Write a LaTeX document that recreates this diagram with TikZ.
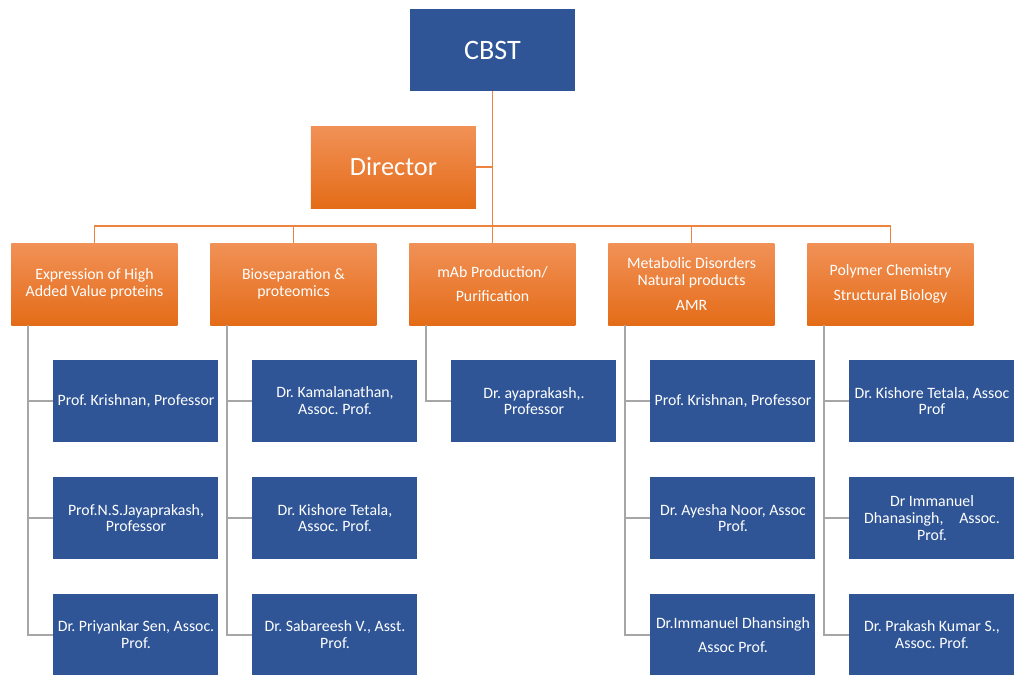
\documentclass[tikz,border=0pt]{standalone}
\usepackage{fontspec}
\setmainfont{Carlito}
\frenchspacing
\usetikzlibrary{positioning}
\definecolor{unitblue}{HTML}{2F5597}
\definecolor{orgtop}{HTML}{F19157}
\definecolor{orgmid}{HTML}{F47F2F}
\definecolor{orgbot}{HTML}{E46C18}
\definecolor{orgline}{HTML}{EE8340}
\definecolor{staffline}{HTML}{A6A6A6}
\tikzstyle{unit} = [rectangle, 
minimum width=3.3cm, 
minimum height=1.64cm,
text centered, 
text=white, 
fill=unitblue, 
font=\fontsize{16}{19}\selectfont]
\tikzstyle{head} = [rectangle, 
minimum width=3.3cm, 
minimum height=1.64cm,
text centered, 
text=white, 
top color=orgtop, middle color=orgmid, bottom color=orgbot, 
font=\fontsize{15}{18}\selectfont]
\tikzstyle{group} = [rectangle, 
minimum width=3.32cm, 
minimum height=1.64cm,
align=center, 
text=white, 
top color=orgtop, middle color=orgmid, bottom color=orgbot, 
font=\fontsize{9}{9.6}\selectfont]
\tikzstyle{member} = [rectangle, 
minimum width=3.3cm, 
minimum height=1.64cm,
inner sep=1pt, % long names nearly fill the box
align=center, 
text=white, 
fill=unitblue, 
font=\fontsize{9}{9.6}\selectfont]
\tikzstyle{orange line} = [draw=orgline, line width=0.85pt]
\tikzstyle{gray line} = [draw=staffline, line width=0.9pt]

\begin{document}
\begin{tikzpicture}[node distance=2.34cm]
\useasboundingbox (-9.85,1.0) rectangle (10.63,-12.5);

\node (cbst) [unit] {CBST};
\node (dir) [head, below of=cbst, xshift=-1.98cm] {Director};

\node (grp3) [group, below of=dir, xshift=1.98cm] {mAb Production/\\[4.5pt]Purification};
\node (grp2) [group, left of=grp3, xshift=-1.64cm] {Bioseparation \&\\proteomics};
\node (grp1) [group, left of=grp2, xshift=-1.64cm] {Expression of High\\Added Value proteins};
\node (grp4) [group, right of=grp3, xshift=1.64cm] {Metabolic Disorders\\Natural products\\[4.5pt]AMR};
\node (grp5) [group, right of=grp4, xshift=1.64cm] {Polymer Chemistry\\[4.5pt]Structural Biology};

\node[coordinate, above of=grp3, yshift=-1.18cm] (bar) {};
\draw[orange line] (cbst) -- (bar);
\draw[orange line] (dir.east) -- (dir.east -| bar);
\draw[orange line] (bar) -| (grp1);
\draw[orange line] (bar) -| (grp2);
\draw[orange line] (bar) -- (grp3);
\draw[orange line] (bar) -| (grp4);
\draw[orange line] (bar) -| (grp5);

\node (mem1a) [member, below of=grp1, xshift=0.83cm] {Prof. Krishnan, Professor};
\node (mem1b) [member, below of=mem1a] {Prof.N.S.Jayaprakash,\\Professor};
\node (mem1c) [member, below of=mem1b] {Dr. Priyankar Sen, Assoc.\\Prof.};
\draw[gray line] ([xshift=0.34cm]grp1.south west) |- (mem1a.west);
\draw[gray line] ([xshift=0.34cm]grp1.south west) |- (mem1b.west);
\draw[gray line] ([xshift=0.34cm]grp1.south west) |- (mem1c.west);

\node (mem2a) [member, below of=grp2, xshift=0.83cm] {Dr. Kamalanathan,\\Assoc. Prof.};
\node (mem2b) [member, below of=mem2a] {Dr. Kishore Tetala,\\Assoc. Prof.};
\node (mem2c) [member, below of=mem2b] {Dr. Sabareesh V., Asst.\\Prof.};
\draw[gray line] ([xshift=0.34cm]grp2.south west) |- (mem2a.west);
\draw[gray line] ([xshift=0.34cm]grp2.south west) |- (mem2b.west);
\draw[gray line] ([xshift=0.34cm]grp2.south west) |- (mem2c.west);

\node (mem3a) [member, below of=grp3, xshift=0.83cm] {Dr. ayaprakash,.\\Professor};
\draw[gray line] ([xshift=0.34cm]grp3.south west) |- (mem3a.west);

\node (mem4a) [member, below of=grp4, xshift=0.83cm] {Prof. Krishnan, Professor};
\node (mem4b) [member, below of=mem4a] {Dr. Ayesha Noor, Assoc\\Prof.};
\node (mem4c) [member, below of=mem4b] {Dr.Immanuel Dhansingh\\[4.5pt]Assoc Prof.};
\draw[gray line] ([xshift=0.34cm]grp4.south west) |- (mem4a.west);
\draw[gray line] ([xshift=0.34cm]grp4.south west) |- (mem4b.west);
\draw[gray line] ([xshift=0.34cm]grp4.south west) |- (mem4c.west);

\node (mem5a) [member, below of=grp5, xshift=0.83cm] {Dr. Kishore Tetala, Assoc\\Prof};
\node (mem5b) [member, below of=mem5a] {Dr Immanuel\\Dhanasingh,\quad Assoc.\\Prof.};
\node (mem5c) [member, below of=mem5b] {Dr. Prakash Kumar S.,\\Assoc. Prof.};
\draw[gray line] ([xshift=0.34cm]grp5.south west) |- (mem5a.west);
\draw[gray line] ([xshift=0.34cm]grp5.south west) |- (mem5b.west);
\draw[gray line] ([xshift=0.34cm]grp5.south west) |- (mem5c.west);

\end{tikzpicture}
\end{document}
